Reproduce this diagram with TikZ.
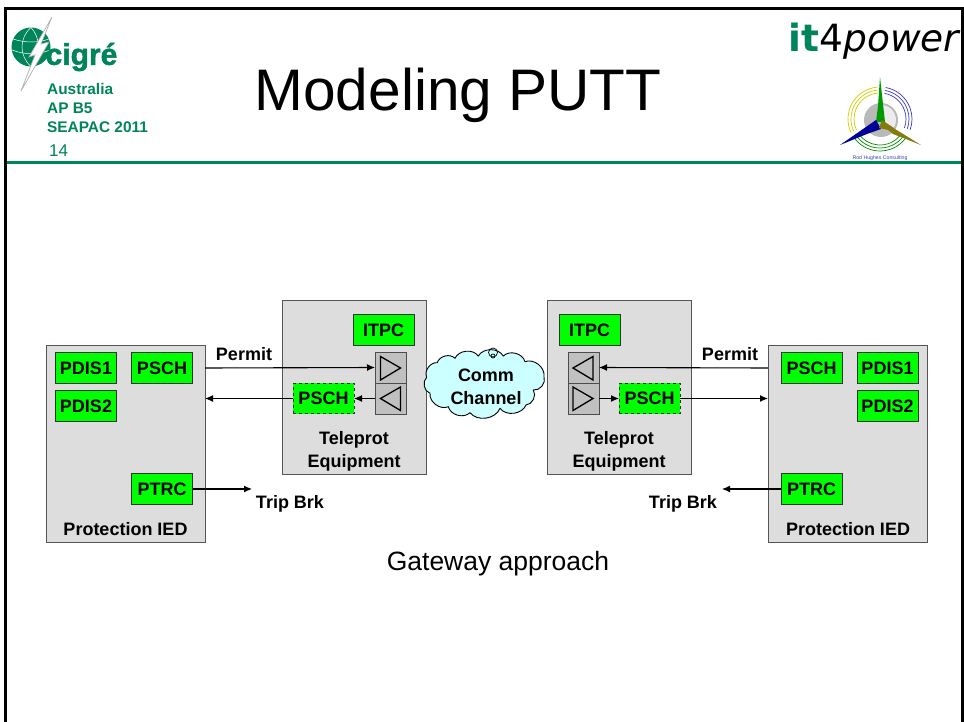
\documentclass[tikz,border=0pt]{standalone}
\usepackage{fontspec}
\usetikzlibrary{arrows.meta}
\setmainfont{Liberation Sans}
\newfontfamily\logofont{DejaVu Sans}
\newfontfamily\heavyfont[BoldFeatures={FakeBold=1.6}]{Liberation Sans}
\definecolor{cigregreen}{HTML}{00845A}
\definecolor{boxgray}{HTML}{DDDDDD}
\definecolor{trigray}{HTML}{C0C0C0}
\definecolor{edgegray}{HTML}{555555}
\definecolor{cloudblue}{HTML}{CCFFFF}
\tikzset{
  lbl/.style={font=\fontsize{18}{23}\selectfont\bfseries,align=center,inner sep=0pt},
  unit/.style={draw=edgegray,fill=boxgray,line width=1pt,inner sep=0pt,outer sep=0pt},
  ln/.style={draw=black!80,fill=green,line width=1pt,minimum width=61pt,minimum height=30.5pt,inner sep=0pt,outer sep=0pt,font=\fontsize{18}{23}\selectfont\bfseries},
  lndash/.style={ln,dashed},
  port/.style={draw=black!70,fill=trigray,line width=1pt,minimum width=31pt,minimum height=31pt,inner sep=0pt,outer sep=0pt},
  tri/.style={draw=black,fill=trigray,line width=1.3pt},
  sig/.style={-{Latex[length=8pt,width=7pt]},draw=black,line width=1.1pt}
}
\begin{document}
\begin{tikzpicture}[x=1pt,y=-1pt]
  \useasboundingbox (0,0) rectangle (964,722);
  \fill[white] (0,0) rectangle (964,722);

  % left logo
  \fill[cigregreen] (31,47) circle (19.5);
  \draw[white,line width=0.5pt] (31,27.5) .. controls (19,38) and (19,56) .. (31,66.5);
  \draw[white,line width=0.5pt] (31,27.5) .. controls (41,38) and (41,56) .. (31,66.5);
  \draw[white,line width=0.5pt] (13,39) .. controls (25,43) and (38,43) .. (49,39);
  \draw[white,line width=0.5pt] (12,50) .. controls (25,55) and (38,55) .. (50,50);
  \draw[gray!60,fill=white,line width=0.7pt] (52,17) -- (41,44) -- (49,42) -- (21,91) -- (35,55) -- (29,57) -- cycle;
  \node (cigre) at (81.5,57) [text=cigregreen,inner sep=0pt,font=\fontsize{30}{31}\selectfont\heavyfont\bfseries] {cigré};
  \node (region) at (47,108) [anchor=west,text=cigregreen,align=left,inner sep=0pt,font=\fontsize{15.4}{19}\selectfont\bfseries] {Australia\\AP B5\\SEAPAC 2011};
  \node (slide) at (49,151) [anchor=west,text=cigregreen,inner sep=0pt,font=\fontsize{17}{17}\selectfont] {14};

  % title
  \node (title) at (458,95) [inner sep=0pt,font=\fontsize{58.6}{60}\selectfont] {Modeling PUTT};

  % right logos
  \node (itfour) at (875,41) [inner sep=0pt,font=\fontsize{37.5}{38}\selectfont\logofont] {\textcolor{cigregreen}{\bfseries it}4\textit{power}};
  \fill[gray!55] (881,120) circle (17);
  \fill[gray!15] (881,120) ++(90:15pt) arc (90:-30:15pt) -- (881,120) -- cycle;
  \foreach \r in {26,29,32} {
    \draw[yellow!65!olive,line width=0.7pt] (880,119) ++(95:\r pt) arc (95:205:\r pt);
    \draw[blue!55!gray,line width=0.7pt] (880,119) ++(80:\r pt) arc (80:-20:\r pt);
    \draw[green!55!black,line width=0.7pt] (880,119) ++(-35:\r pt) arc (-35:-145:\r pt);
  }
  \fill[green!60!black] (880,77) -- (885,122) -- (876,122) -- (878,106) -- cycle;
  \fill[blue!60!black] (840,145) -- (876,120) -- (881,129) -- (867,134) -- cycle;
  \fill[olive!90!black] (921,145) -- (893,134) -- (888,130) -- (879,128) -- (882,120) -- (895,129) -- cycle;
  \node (consult) at (880,158) [text=blue!50!gray,inner sep=0pt,font=\fontsize{5.2}{6}\selectfont] {Rod Hughes Consulting};

  % frame and rule
  \draw[cigregreen,line width=3pt] (6,163) -- (962,163);
  \draw[black,line width=3pt] (5,722) -- (5,9) -- (962.5,9) -- (962.5,722);

  % left side
  \node (iedl) at (125.5,443.5) [unit,minimum width=159pt,minimum height=197pt] {};
  \node (tpl) at (354,387) [unit,minimum width=144pt,minimum height=174pt] {};
  \node (pdisal) at (86,368) [ln] {PDIS1};
  \node (pdisbl) at (86,406) [ln] {PDIS2};
  \node (pschl) at (162,368) [ln] {PSCH};
  \node (ptrcl) at (162,489) [ln] {PTRC};
  \node (iedtxtl) at (125.5,529) [lbl] {Protection IED};
  \node (itpcl) at (383.5,330) [ln] {ITPC};
  \node (txl) at (390.5,367.5) [port] {};
  \node (rxl) at (390.5,398.5) [port] {};
  \node (gwl) at (323.5,398.5) [lndash] {PSCH};
  \node (tptxtl) at (354,451.5) [lbl] {Teleprot\\Equipment};
  \draw[tri] (380.5,356.5) -- (400.5,368) -- (380.5,380) -- cycle;
  \draw[tri] (400.5,387) -- (380.5,398.5) -- (400.5,410.5) -- cycle;

  % right side
  \node (iedr) at (847.5,443.5) [unit,minimum width=159pt,minimum height=197pt] {};
  \node (tpr) at (619,387) [unit,minimum width=144pt,minimum height=174pt] {};
  \node (pdisar) at (887.5,368) [ln] {PDIS1};
  \node (pdisbr) at (887.5,406) [ln] {PDIS2};
  \node (pschr) at (811.5,368) [ln] {PSCH};
  \node (ptrcr) at (811.5,489) [ln] {PTRC};
  \node (iedtxtr) at (848,529) [lbl] {Protection IED};
  \node (itpcr) at (589.5,330) [ln] {ITPC};
  \node (rxr) at (583.5,367.5) [port] {};
  \node (txr) at (583.5,398.5) [port] {};
  \node (gwr) at (649.5,398.5) [lndash] {PSCH};
  \node (tptxtr) at (619,451.5) [lbl] {Teleprot\\Equipment};
  \draw[tri] (593,356.5) -- (573,368) -- (593,380) -- cycle;
  \draw[tri] (573,387) -- (593,398.5) -- (573,410.5) -- cycle;

  % cloud
  \draw[black,fill=cloudblue,line width=0.9pt,bend left=60] (426.7,377.3) to (437.3,362.7) to (455,358.3) to (478.3,356) to (503.3,356) to (525,361.7) to (544,376.7) to (533.3,390) to (526,405) to (500,408.3) to (470,412.7) to (448.3,406.7) to (430,393.3) to cycle;
  \draw[black,line width=0.7pt] (493,352.5) circle (4.5);
  \draw[black,line width=0.7pt] (493,356) circle (2);
  \node (comm) at (486,387) [lbl] {Comm\\Channel};

  % connectors
  \draw[sig] (iedl.east |- pschl.east) -- (txl.west);
  \draw[sig] (gwl.west) -- (iedl.east |- gwl.west);
  \draw[sig] (rxl.west) -- (gwl.east);
  \draw[sig] (iedr.west |- pschr.west) -- (rxr.east);
  \draw[sig] (gwr.east) -- (iedr.west |- gwr.east);
  \draw[sig] (txr.east) -- (gwr.west);
  \coordinate (tripl) at (252,489);
  \coordinate (tripr) at (722,489);
  \draw[sig] (ptrcl.east) -- (tripl);
  \draw[sig] (ptrcr.west) -- (tripr);
  \node (permitl) at (244,354) [lbl] {Permit};
  \node (permitr) at (730,354) [lbl] {Permit};
  \node (brkl) at (290,504) [lbl] {Trip Brk};
  \node (brkr) at (683,504) [lbl] {Trip Brk};
  \node (caption) at (498,564) [inner sep=0pt,font=\fontsize{26.5}{28}\selectfont] {Gateway approach};
\end{tikzpicture}
\end{document}
